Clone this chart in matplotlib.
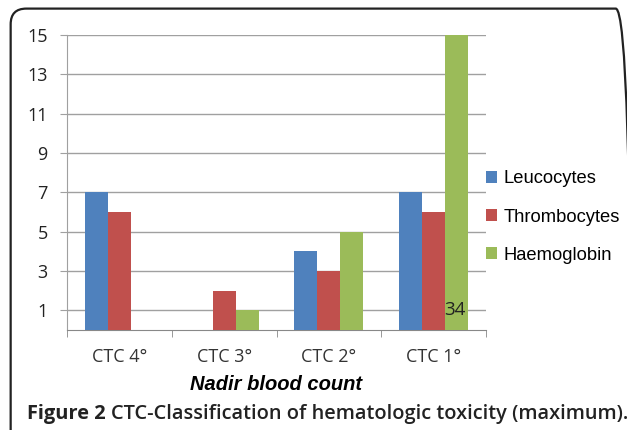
import matplotlib.pyplot as plt
import numpy as np
from matplotlib.patches import FancyBboxPatch

categories = ["CTC 4°", "CTC 3°", "CTC 2°", "CTC 1°"]
leucocytes = [7, 0, 4, 7]
thrombocytes = [6, 2, 3, 6]
haemoglobin = [0, 1, 5, 15]
series_names = ["Leucocytes", "Thrombocytes", "Haemoglobin"]
yticks = [1, 3, 5, 7, 9, 11, 13, 15]

colors = ["#4F81BD", "#C0504D", "#9BBB59"]

fig = plt.figure(figsize=(6.27, 4.30), dpi=100)
ax = fig.add_axes([0.1069, 0.2326, 0.6683, 0.686])

# rounded frame around the whole figure
frame = FancyBboxPatch((0.017, -0.2), 0.99, 1.18, boxstyle="round,pad=0,rounding_size=0.025",
                       transform=fig.transFigure, fill=False, edgecolor="#222222", linewidth=1.6,
                       mutation_aspect=627 / 430)
fig.patches.append(frame)

x = np.arange(len(categories))
w = 0.22
for i, vals in enumerate([leucocytes, thrombocytes, haemoglobin]):
    ax.bar(x + (i - 1) * w, vals, width=w, color=colors[i], label=series_names[i], zorder=3)

ax.set_xlim(-0.5, 3.5)
ax.set_ylim(0, 15)
ax.set_yticks(yticks)
ax.set_xticks(x)
ax.set_xticklabels(categories, fontfamily="Open Sans", fontsize=13, color="#333333")
ax.set_xticks(np.arange(-0.5, 4, 1), minor=True)
ax.tick_params(axis="x", which="major", length=0, pad=13)
ax.tick_params(axis="x", which="minor", length=5, color="#888888", direction="out")
ax.tick_params(axis="y", length=5, color="#A0A0A0", labelsize=13, pad=9)
for lab in ax.get_yticklabels():
    lab.set_fontfamily("Open Sans")
    lab.set_color("#222222")

ax.grid(axis="y", color="#A0A0A0", linewidth=1.0, zorder=0)
for s in ["top", "right"]:
    ax.spines[s].set_visible(False)
ax.spines["left"].set_color("#A0A0A0")
ax.spines["bottom"].set_color("#888888")

ax.set_xlabel("Nadir blood count", fontfamily="Liberation Sans", fontweight="bold",
              fontstyle="italic", fontsize=14.5, labelpad=6.5)

ax.legend(loc="center left", bbox_to_anchor=(1.0, 0.383), frameon=False,
          prop={"family": "Liberation Sans", "size": 13.2}, handlelength=0.6,
          handleheight=0.6, handletextpad=0.35, labelspacing=1.15, borderpad=0,
          borderaxespad=0)

ax.text(3.2, 1, "34", fontfamily="Open Sans", fontsize=13.5, color="#222222",
        ha="center", va="center", zorder=4)

t1 = fig.text(0.043, 0.038, "Figure 2 ", fontfamily="Open Sans", fontweight="bold",
              fontsize=14.4, color="#222222", va="center")
fig.canvas.draw()
bb = t1.get_window_extent(renderer=fig.canvas.get_renderer())
fig.text(bb.x1 / fig.bbox.width, 0.038, "CTC-Classification of hematologic toxicity (maximum).",
         fontfamily="Open Sans", fontweight="semibold", fontsize=14.4, color="#222222", va="center")

fig.savefig("out.png", dpi=100)
